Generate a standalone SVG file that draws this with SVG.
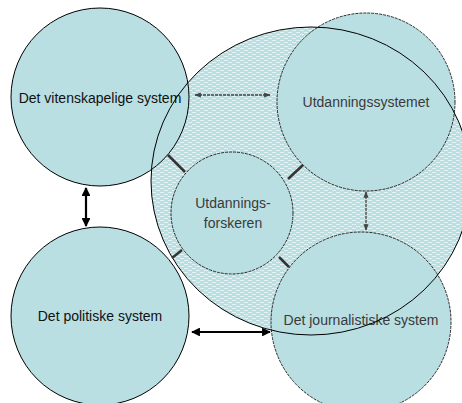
<svg xmlns="http://www.w3.org/2000/svg" width="462" height="403" viewBox="0 0 462 403">
<defs>
<pattern id="dots" width="8" height="4" patternUnits="userSpaceOnUse">
<rect width="8" height="4" fill="#B9DFE2"/>
<rect x="0" y="0" width="4" height="1" fill="#ffffff" opacity="0.6"/>
<rect x="4" y="2" width="4" height="1" fill="#ffffff" opacity="0.6"/>
</pattern>
<marker id="ahB" viewBox="0 0 10 10" refX="9" refY="5" markerWidth="4" markerHeight="4" orient="auto-start-reverse" markerUnits="strokeWidth">
<path d="M0,0 L10,5 L0,10 z" fill="#000"/>
</marker>
<marker id="ahG" viewBox="0 0 10 10" refX="9" refY="5" markerWidth="5" markerHeight="5" orient="auto-start-reverse" markerUnits="strokeWidth">
<path d="M0,1 L10,5 L0,9 z" fill="#444"/>
</marker>
</defs>
<style>
.c{fill:#B9DFE2;stroke:#000;stroke-width:1}
.cd{fill:#B9DFE2;stroke:#2a2a2a;stroke-width:1;stroke-dasharray:3 1}
.t{font-family:"Liberation Sans",Arial,sans-serif;font-size:14px;text-anchor:middle;fill:#111}
.tg{font-family:"Liberation Sans",Arial,sans-serif;font-size:14px;text-anchor:middle;fill:#3a3a3a}
.ab{stroke:#000;stroke-width:2.2;fill:none;marker-start:url(#ahB);marker-end:url(#ahB)}
.ag{stroke:#444;stroke-width:1.3;stroke-dasharray:3 1;fill:none;marker-start:url(#ahG);marker-end:url(#ahG)}
.tick{stroke:#333;stroke-width:2.5}
</style>
<g id="scope">
<ellipse cx="311" cy="181" rx="160" ry="154" fill="url(#dots)"/>
</g>
<g id="vitenskapelige">
<circle class="c" cx="100" cy="97" r="89"/>
<text class="t" x="100" y="103">Det vitenskapelige system</text>
</g>
<g id="politiske">
<circle class="c" cx="100" cy="316" r="89"/>
<text class="t" x="100" y="321">Det politiske system</text>
</g>
<g id="utdanningssystemet">
<circle class="cd" cx="366" cy="102" r="89"/>
<text class="tg" x="366" y="107">Utdanningssystemet</text>
</g>
<g id="journalistiske">
<circle class="cd" cx="361" cy="322" r="90"/>
<text class="tg" x="361" y="325">Det journalistiske system</text>
</g>
<g id="forskeren">
<circle class="cd" cx="232" cy="213" r="61"/>
<text class="tg" x="233" y="208">Utdannings-</text>
<text class="tg" x="233" y="228">forskeren</text>
</g>
<g id="scope-outline">
<ellipse cx="311" cy="181" rx="160" ry="154" fill="none" stroke="#000" stroke-width="1"/>
</g>
<g id="connectors">
<line class="ag" x1="195" y1="95" x2="270" y2="95"/>
<line class="ab" x1="86" y1="188" x2="86" y2="226"/>
<line class="ag" x1="366" y1="192" x2="366" y2="230"/>
<line class="ab" x1="192" y1="332" x2="270" y2="332"/>
<line class="tick" x1="168" y1="155" x2="185" y2="172"/>
<line class="tick" x1="172" y1="258" x2="182" y2="250"/>
<line class="tick" x1="288" y1="179" x2="303" y2="165"/>
<line class="tick" x1="279" y1="257" x2="289" y2="267"/>
</g>
</svg>
